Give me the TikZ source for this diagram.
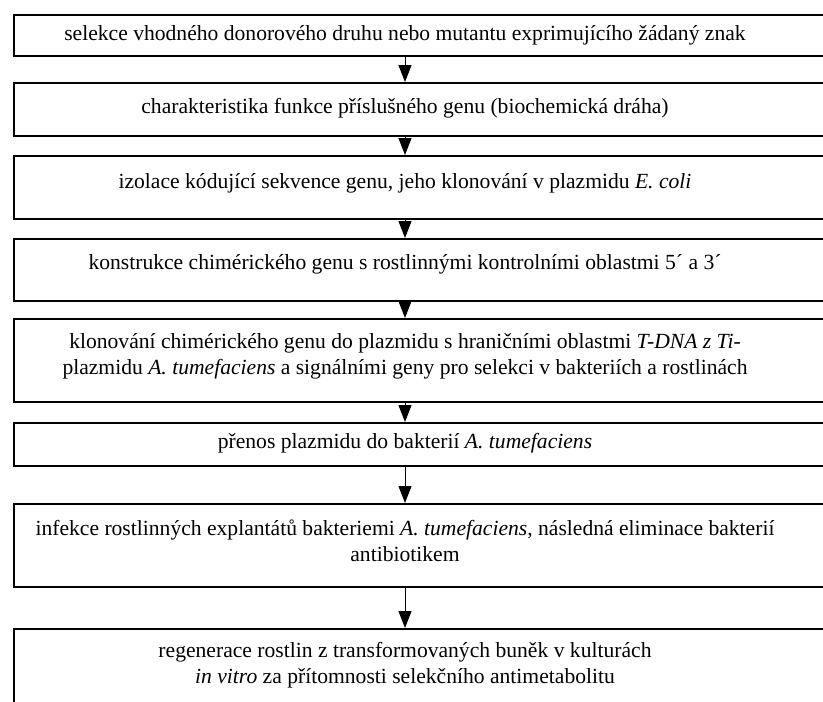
\documentclass[tikz,border=0pt]{standalone}
\usepackage{fontspec}
\setmainfont{Liberation Serif}
\usetikzlibrary{arrows.meta}
\begin{document}
\begin{tikzpicture}[x=1pt, y=-1pt,
  box/.style = {draw, line width=1.5pt, minimum width=822pt, anchor=north west, inner sep=0pt},
  txt/.style = {align=center, inner sep=0pt, font=\fontsize{21.6}{26}\selectfont},
  arr/.style = {-{Triangle[width=13pt, length=17pt]}, line width=1pt}]
\useasboundingbox (0,0) rectangle (823,702);
% boxes
\node[box, minimum height=41pt] (b1) at (13,14) {};
\node[box, minimum height=53pt] (b2) at (13,82) {};
\node[box, minimum height=63pt] (b3) at (13,155) {};
\node[box, minimum height=62pt] (b4) at (13,238) {};
\node[box, minimum height=83pt] (b5) at (13,318) {};
\node[box, minimum height=43pt] (b6) at (13,422) {};
\node[box, minimum height=83pt] (b7) at (13,503) {};
\node[box, minimum height=92pt] (b8) at (13,628) {};
% texts
\node[txt] (t1) at (405,35) {selekce vhodného donorového druhu nebo mutantu exprimujícího žádaný znak};
\node[txt] (t2) at (405,108) {charakteristika funkce příslušného genu (biochemická dráha)};
\node[txt] (t3) at (405,183) {izolace kódující sekvence genu, jeho klonování v plazmidu \textit{E. coli}};
\node[txt] (t4) at (405,264) {konstrukce chimérického genu s rostlinnými kontrolními oblastmi 5´ a 3´};
\node[txt] (t5) at (405,356) {klonování chimérického genu do plazmidu s hraničními oblastmi \textit{T-DNA z Ti}-\\plazmidu \textit{A. tumefaciens} a signálními geny pro selekci v bakteriích a rostlinách};
\node[txt] (t6) at (405,443) {přenos plazmidu do bakterií \textit{A. tumefaciens}};
\node[txt] (t7) at (405,541) {infekce rostlinných explantátů bakteriemi \textit{A. tumefaciens}, následná eliminace bakterií\\antibiotikem};
\node[txt] (t8) at (405,665) {regenerace rostlin z transformovaných buněk v kulturách\\\textit{in vitro} za přítomnosti selekčního antimetabolitu};
% arrows
\draw[arr] (t1 |- b1.south) -- (t2 |- b2.north);
\draw[arr] (t2 |- b2.south) -- (t3 |- b3.north);
\draw[arr] (t3 |- b3.south) -- (t4 |- b4.north);
\draw[arr] (t4 |- b4.south) -- (t5 |- b5.north);
\draw[arr] (t5 |- b5.south) -- (t6 |- b6.north);
\draw[arr] (t6 |- b6.south) -- (t7 |- b7.north);
\draw[arr] (t7 |- b7.south) -- (t8 |- b8.north);
\end{tikzpicture}
\end{document}
